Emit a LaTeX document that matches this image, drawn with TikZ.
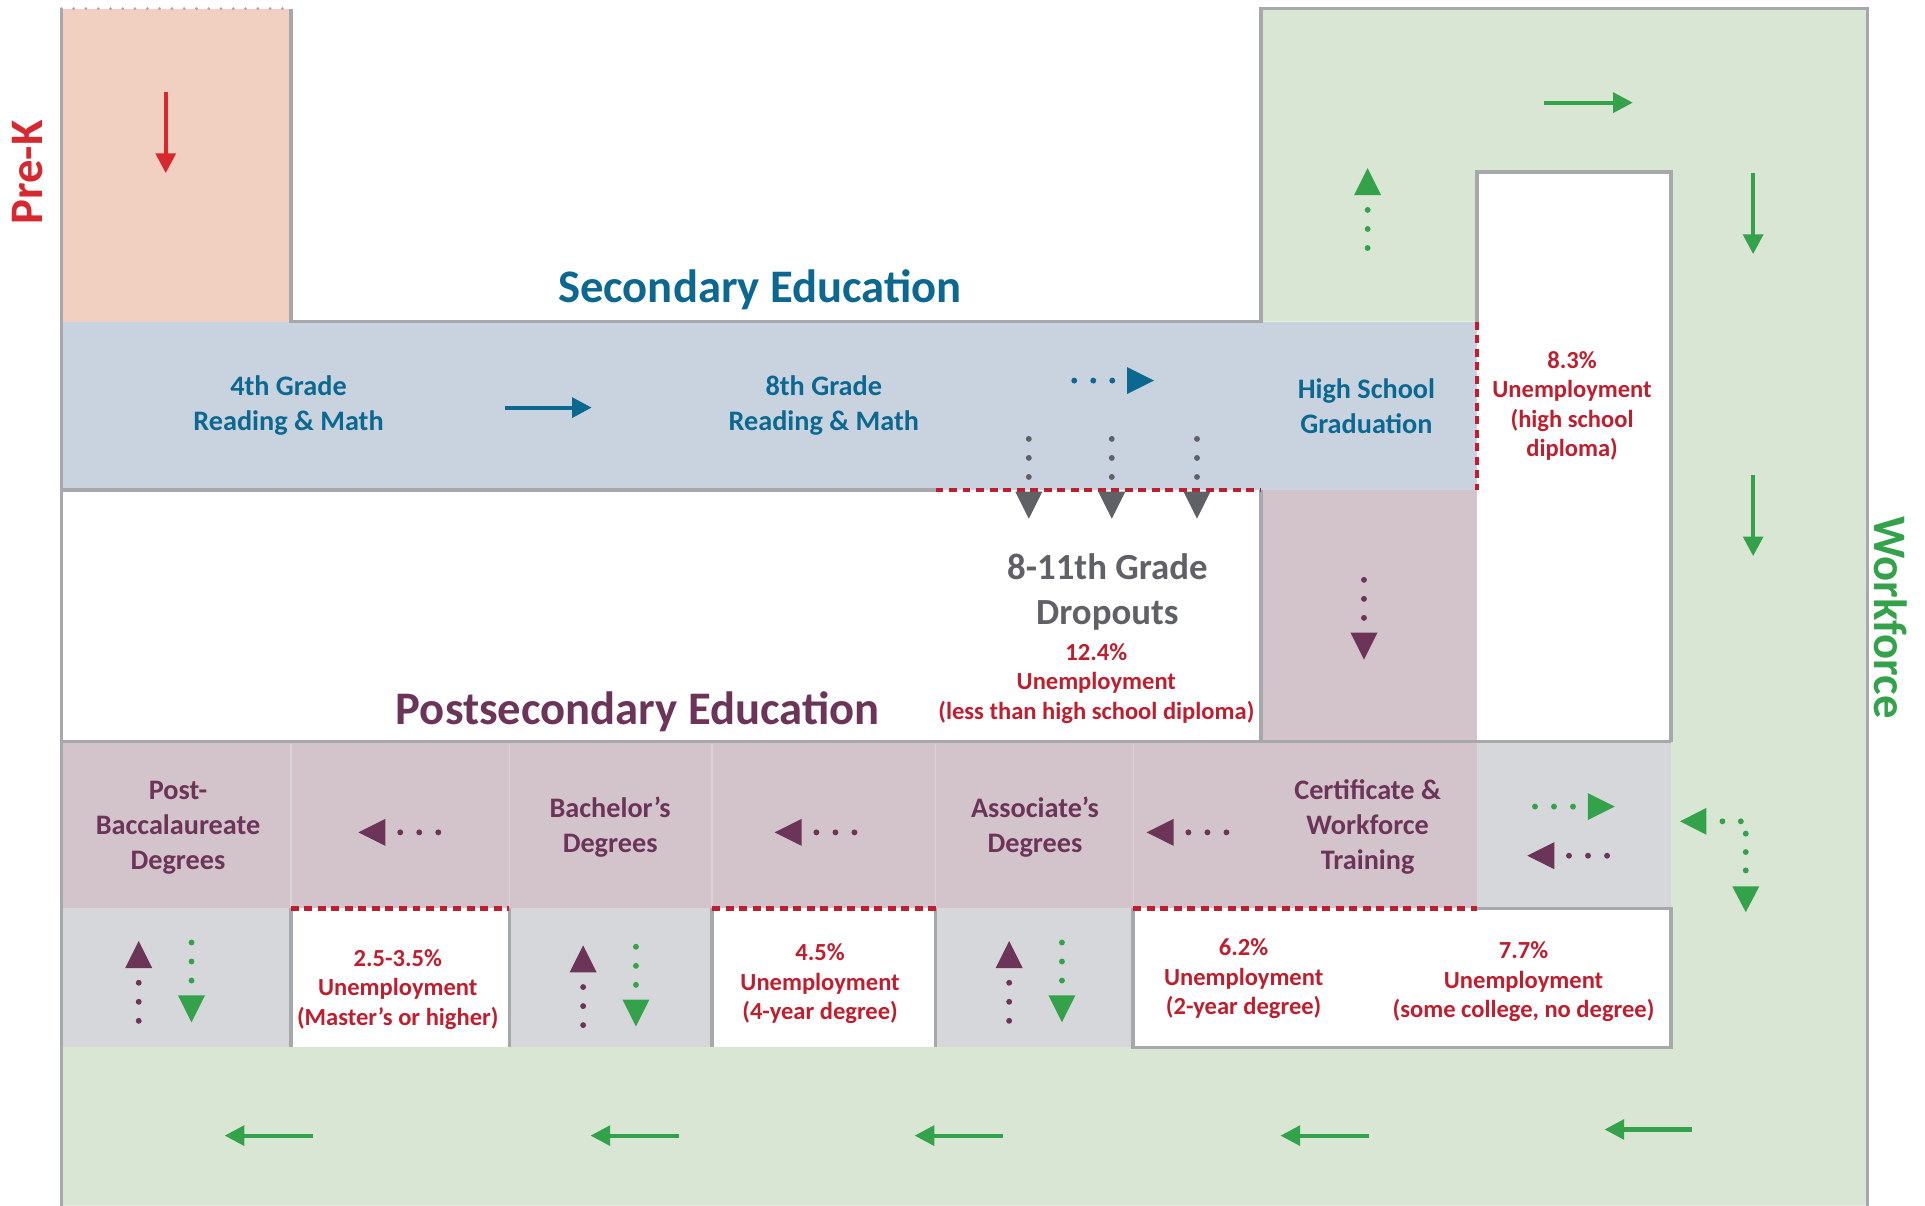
\documentclass[tikz,border=0pt]{standalone}
\usepackage{fontspec}
\setmainfont{Carlito}
\usetikzlibrary{arrows.meta}
\definecolor{prekfill}{HTML}{F2D0C1}
\definecolor{secfill}{HTML}{C8D3DF}
\definecolor{grnfill}{HTML}{D8E6D3}
\definecolor{mauvefill}{HTML}{D3C4CB}
\definecolor{lgray}{HTML}{D6D7DA}
\definecolor{bordergray}{HTML}{A6A8AB}
\definecolor{tealc}{HTML}{0C6890}
\definecolor{mauvec}{HTML}{6B3458}
\definecolor{redc}{HTML}{BF1E2E}
\definecolor{prekred}{HTML}{D7282F}
\definecolor{grnc}{HTML}{34A24B}
\definecolor{grayc}{HTML}{5F6166}
\definecolor{sepc}{HTML}{DDD2D7}
\tikzset{
  border/.style={draw=bordergray, line width=2.8pt},
  reddash/.style={draw=redc, line width=3.3pt, dash pattern=on 6.5pt off 4.5pt},
  lbl/.style={font=\bfseries\fontsize{23}{28.5}\selectfont, align=center, inner sep=0pt},
  ttl/.style={font=\bfseries\fontsize{38}{44}\selectfont, inner sep=0pt},
  unemp/.style={font=\bfseries\fontsize{20}{24}\selectfont, align=center, inner sep=0pt, text=redc},
  sarr/.style={line width=3.3pt, -{Triangle[length=16pt,width=16pt]}},
  dotarr/.pic={
    \fill (0,-11) -- (22,0) -- (0,11) -- cycle;
    \foreach \d in {12,27.5,43} \fill (-\d,0) circle (2.4pt);
  }
}
\begin{document}
\begin{tikzpicture}[x=1pt,y=-1pt]
\useasboundingbox (0,0) rectangle (1568,982);
\fill[white] (0,0) rectangle (1568,982);
% ---------- fills
\fill[prekfill] (50,7) rectangle (237,262);
\fill[secfill] (50,262) rectangle (1203,399);
\fill[grnfill] (1027,7) -- (1521,7) -- (1521,982) -- (50,982) -- (50,853)
  -- (1361,853) -- (1361,140) -- (1203,140) -- (1203,262) -- (1027,262) -- cycle;
\fill[mauvefill] (1027,399) rectangle (1203,604);
\fill[mauvefill] (50,604) rectangle (1203,740);
\fill[lgray] (1203,604) rectangle (1361,740);
\fill[lgray] (50,740) rectangle (237,853);
\fill[lgray] (415,740) rectangle (580,853);
\fill[lgray] (762,740) rectangle (923,853);
\fill[white] (923,740) rectangle (1361,853);
% faint separators
\foreach \sx in {237,415,580,762,923}
  \draw[sepc, line width=1pt] (\sx,606) -- (\sx,739);
% ---------- borders
\draw[bordergray, line width=2.5pt, line cap=round, dash pattern=on 0pt off 10pt] (50,7) -- (237,7);
\draw[border] (50,7) -- (50,982);
\draw[border] (237,7) -- (237,262) -- (1027,262) -- (1027,7) -- (1521,7) -- (1521,982);
\draw[border] (1203,262) -- (1203,140) -- (1361,140) -- (1361,604);
\draw[border] (50,399) -- (762,399);
\draw[border] (1027,399) -- (1027,604);
\draw[border] (50,604) -- (1361,604);
\foreach \sx in {237,415,580,762}
  \draw[border] (\sx,740) -- (\sx,853);
\draw[border] (1203,740) -- (1361,740) -- (1361,853) -- (923,853) -- (923,740);
% red dashed boundaries
\draw[reddash] (762,399) -- (1027,399);
\draw[reddash] (1203,262) -- (1203,399);
\draw[reddash] (237,740) -- (415,740);
\draw[reddash] (580,740) -- (762,740);
\draw[reddash] (923,740) -- (1203,740);
% ---------- titles
\node[ttl, text=prekred, rotate=90] (prek) at (22.5,140.5) {Pre-K};
\node[ttl, text=grnc, rotate=-90] (work) at (1540,503) {Workforce};
\node[ttl, text=tealc] (sec) at (619,236) {Secondary Education};
\node[ttl, text=mauvec] (post) at (519.5,579.6) {Postsecondary Education};
% ---------- secondary labels
\node[lbl, text=tealc] (g4) at (235,330.5) {4th Grade\\Reading \& Math};
\node[lbl, text=tealc] (g8) at (671,330.5) {8th Grade\\Reading \& Math};
\node[lbl, text=tealc] (hs) at (1113,330.5) {High School\\Graduation};
\node[unemp] (u83) at (1280.5,330.5) {8.3\%\\Unemployment\\(high school\\diploma)};
\node[lbl, text=grayc, font=\bfseries\fontsize{30}{36.7}\selectfont] (drop) at (902,482.5) {8-11th Grade\\Dropouts};
\node[unemp] (u124) at (893,556.8) {12.4\%\\Unemployment\\(less than high school diploma)};
% ---------- postsecondary labels
\node[lbl, text=mauvec] (pb) at (145,674.5) {Post-\\Baccalaureate\\Degrees};
\node[lbl, text=mauvec] (ba) at (497,674) {Bachelor’s\\Degrees};
\node[lbl, text=mauvec] (as) at (843,674) {Associate’s\\Degrees};
\node[lbl, text=mauvec] (cw) at (1114,673.3) {Certificate \&\\Workforce\\Training};
\node[unemp] (u25) at (324,805.8) {2.5-3.5\%\\Unemployment\\(Master’s or higher)};
\node[unemp] (u45) at (668,801.2) {4.5\%\\Unemployment\\(4-year degree)};
\node[unemp] (u62) at (1013,797.2) {6.2\%\\Unemployment\\(2-year degree)};
\node[unemp] (u77) at (1241,799.6) {7.7\%\\Unemployment\\(some college, no degree)};
% ---------- solid arrows
\draw[sarr, prekred] (135,75) -- (135,141);
\draw[sarr, tealc] (411,332) -- (482,332);
\draw[sarr, grnc] (1258,83.6) -- (1330,83.6);
\draw[sarr, grnc] (1428,141) -- (1428,207);
\draw[sarr, grnc] (1428,387) -- (1428,453);
\foreach \ax in {183,481,745,1043}
  \draw[sarr, grnc] (\ax+72,925) -- (\ax,925);
\draw[sarr, grnc] (1378,920) -- (1307,920);
% ---------- dotted arrows
\pic[color=tealc] at (918,310) {dotarr};
\foreach \gx in {838,905.6,975}
  \pic[color=grayc, rotate=-90] at (\gx,400.5) {dotarr};
\pic[color=grnc, rotate=90] at (1114,159) {dotarr};
\pic[color=mauvec, rotate=-90] at (1111,515.3) {dotarr};
\foreach \mx in {314,653,956}
  \pic[color=mauvec, rotate=180] at (\mx,678) {dotarr};
\pic[color=grnc] at (1293.3,657) {dotarr};
\pic[color=mauvec, rotate=180] at (1266,697) {dotarr};
% L-shaped green dotted arrow
\fill[grnc] (1390,658) -- (1368.5,669) -- (1390,680) -- cycle;
\foreach \p in {(1403,669),(1418,669),(1422,679),(1422,694),(1422,709)}
  \fill[grnc] \p circle (2.4pt);
\fill[grnc] (1411,722) -- (1433,722) -- (1422,743) -- cycle;
% lower cells: up (mauve) and down (green) arrows
\foreach \mx/\gx/\off in {113/156/0, 475/518/3.5, 822/865/0} {
  \pic[color=mauvec, rotate=90] at (\mx,788.5+\off) {dotarr};
  \pic[color=grnc, rotate=-90] at (\gx,810.7+\off) {dotarr};
}
\end{tikzpicture}
\end{document}
